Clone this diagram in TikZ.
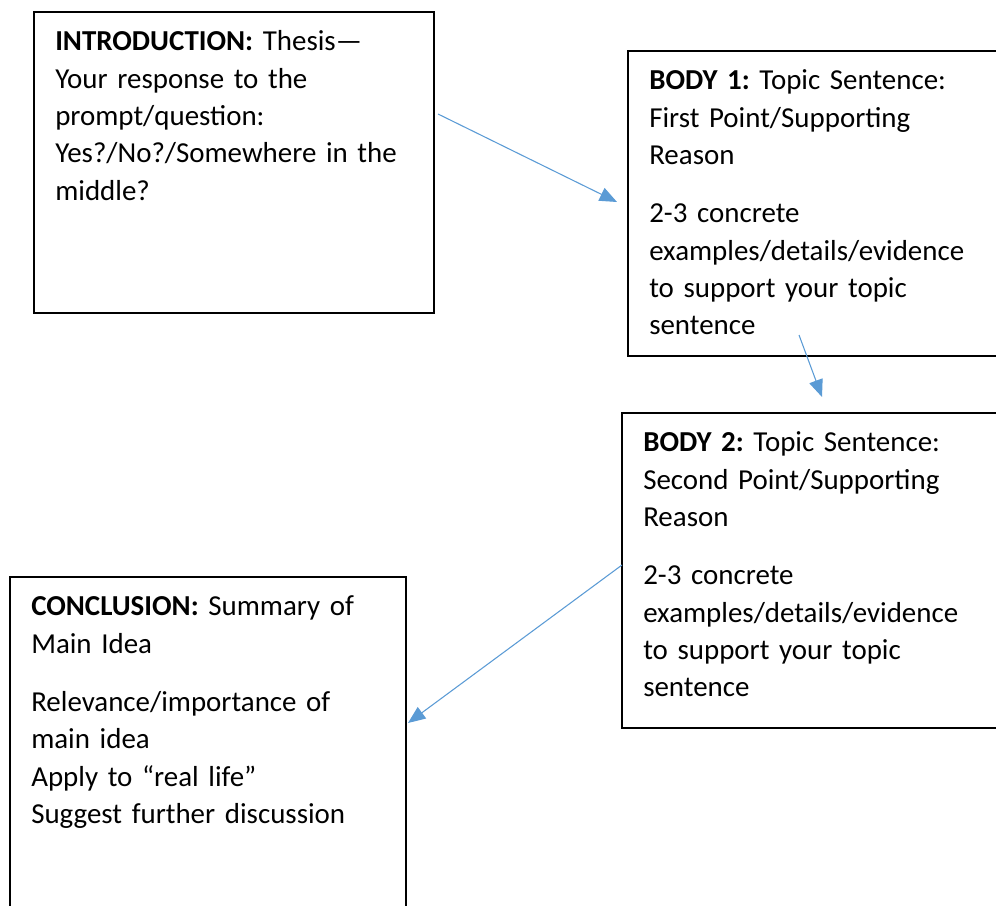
\documentclass[tikz,border=0pt]{standalone}
\usepackage{fontspec}
\setmainfont{Carlito}
\usepackage{tikz}
\usetikzlibrary{positioning,arrows.meta}
\definecolor{arrowblue}{HTML}{5B9BD5}

\begin{document}
\begin{tikzpicture}[x=0.75pt,y=-0.75pt,
	frame/.style={draw=black,line width=1.3pt,inner sep=0pt,outer sep=0pt,anchor=north west},
	txt/.style={inner sep=0pt,text width=272pt,align=left,font=\fontsize{21.7}{28}\selectfont\frenchspacing},
	link/.style={draw=arrowblue,line width=0.8pt,-{Triangle[length=13pt,width=10.5pt]}}]
	\useasboundingbox (0,0) rectangle (996,906);
	\clip (0,0) rectangle (996,906);
	% boxes
	\node[frame,minimum width=300pt,minimum height=225.75pt] (intro) at (34,12) {};
	\node[frame,minimum width=315pt,minimum height=228.75pt] (bodyone) at (628,51) {};
	\node[frame,minimum width=315pt,minimum height=236.25pt] (bodytwo) at (622,413) {};
	\node[frame,minimum width=297pt,minimum height=255pt] (concl) at (10,577) {};
	% texts
	\node[txt,below right=9.4pt and 15.75pt of intro.north west] (introtext)
		{\strut\textbf{INTRODUCTION:} Thesis—\\Your response to the\\prompt/question:\\Yes?/No?/Somewhere in the\\middle?};
	\node[txt,below right=9.4pt and 15.75pt of bodyone.north west] (bodyonetext)
		{\strut\textbf{BODY 1:} Topic Sentence:\\First Point/Supporting\\Reason\\[15.75pt]2-3 concrete\\examples/details/evidence\\to support your topic\\sentence};
	\node[txt,below right=9.4pt and 15.75pt of bodytwo.north west] (bodytwotext)
		{\strut\textbf{BODY 2:} Topic Sentence:\\Second Point/Supporting\\Reason\\[15.75pt]2-3 concrete\\examples/details/evidence\\to support your topic\\sentence};
	\node[txt,below right=9.4pt and 15.75pt of concl.north west] (concltext)
		{\strut\textbf{CONCLUSION:} Summary of\\Main Idea\\[15.75pt]Relevance/importance of\\main idea\\Apply to “real life”\\Suggest further discussion};
	% arrows
	\coordinate (introout) at (438,114);
	\coordinate (bodyonein) at (617,202);
	\coordinate (bodyoneout) at (799,335);
	\coordinate (bodytwoin) at (822,397);
	\coordinate (bodytwoout) at (622,565);
	\coordinate (conclin) at (408,723);
	\draw[link] (introout) -- (bodyonein);
	\draw[link] (bodyoneout) -- (bodytwoin);
	\draw[link] (bodytwoout) -- (conclin);
\end{tikzpicture}
\end{document}
